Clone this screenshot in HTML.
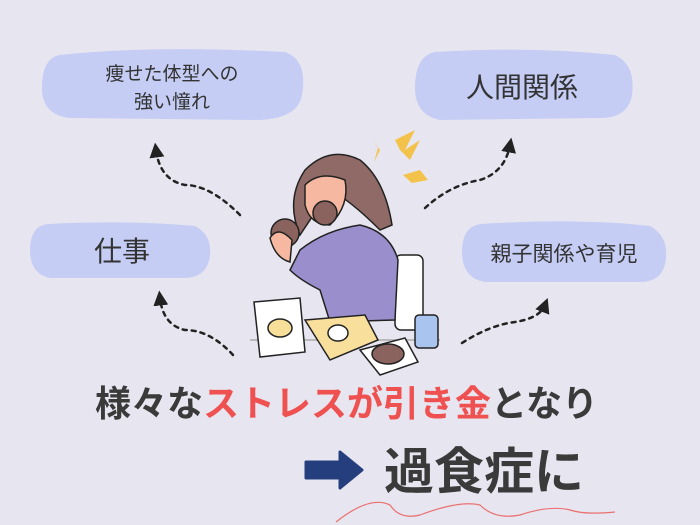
<!DOCTYPE html>
<html><head><meta charset="utf-8"><style>
html,body{margin:0;padding:0;background:#e7e5ef;}
svg{display:block}
text{font-family:"Liberation Sans","Noto Sans CJK JP",sans-serif;}
</style></head><body>
<svg width="700" height="525" viewBox="0 0 700 525" xmlns="http://www.w3.org/2000/svg">
<rect width="700" height="525" fill="#e7e5ef"/>
<defs><marker id="ah" markerWidth="6" markerHeight="6" refX="3" refY="3" orient="auto"><path d="M0,0 L6,3 L0,6 Z" fill="#222"/></marker></defs>
<path d="M60,55 Q150,45 285,52 Q308,60 302,95 Q298,118 260,120 L70,118 Q42,115 42,88 Q42,58 60,55 Z" fill="#c5cdf4"/>
<text x="172" y="80" font-size="19" text-anchor="middle" fill="#333">痩せた体型への</text>
<text x="172" y="108" font-size="19" text-anchor="middle" fill="#333">強い憧れ</text>
<path d="M435,52 Q530,46 615,55 Q636,65 632,95 Q628,118 600,118 L440,120 Q415,115 415,88 Q415,56 435,52 Z" fill="#c5cdf4"/>
<text x="522" y="97" font-size="28" text-anchor="middle" fill="#333">人間関係</text>
<path d="M48,224 Q130,220 195,226 Q212,235 210,255 Q208,277 185,278 L50,278 Q30,274 30,250 Q30,226 48,224 Z" fill="#c5cdf4"/>
<text x="122" y="261" font-size="28" text-anchor="middle" fill="#333">仕事</text>
<path d="M480,224 Q580,218 650,226 Q668,236 666,258 Q664,282 640,282 L485,282 Q462,278 462,252 Q462,227 480,224 Z" fill="#c5cdf4"/>
<text x="564" y="261" font-size="21" text-anchor="middle" fill="#333">親子関係や育児</text>
<g fill="none" stroke="#222" stroke-width="2.5" stroke-dasharray="4,5" stroke-linecap="round">
<path d="M240,215 Q210,185 185,185 Q160,180 156,150" marker-end="url(#ah)"/>
<path d="M425,208 Q450,185 480,180 Q505,172 510,145" marker-end="url(#ah)"/>
<path d="M233,355 Q210,330 185,330 Q163,325 160,298" marker-end="url(#ah)"/>
<path d="M462,343 Q490,325 515,322 Q540,318 545,305" marker-end="url(#ah)"/>
</g>
<g stroke="#222" stroke-width="1.5">
<rect x="395" y="255" width="28" height="75" rx="6" fill="#fff"/>
<path d="M300,235 Q285,200 305,170 Q330,145 360,160 Q385,180 392,225 L380,230 Q350,200 330,190 Z" fill="#8f6a66"/>
<path d="M305,185 Q320,170 345,180 Q350,205 330,225 Q310,225 305,205 Z" fill="#f6b8a0"/>
<path d="M300,250 Q325,230 360,225 Q390,232 398,260 L395,320 L330,322 L320,290 Q300,280 290,270 Z" fill="#9a8fcc"/>
<circle cx="285" cy="233" r="14" fill="#8a625e"/>
<circle cx="325" cy="213" r="12" fill="#8a625e"/>
<path d="M270,238 Q278,225 292,240 L290,262 Q275,258 270,238 Z" fill="#f6b8a0"/>
<path d="M250,340 L440,340" stroke="#aaa"/>
<path d="M254,302 L300,298 L305,352 L260,357 Z" fill="#fff"/>
<ellipse cx="280" cy="328" rx="12" ry="9" fill="#f7df9a"/>
<path d="M305,320 L365,315 L378,340 L330,360 Z" fill="#f8df9c"/>
<ellipse cx="338" cy="333" rx="10" ry="8" fill="#fff"/>
<path d="M360,350 L405,338 L418,362 L380,375 Z" fill="#fff"/>
<ellipse cx="388" cy="354" rx="16" ry="10" fill="#8a625e"/>
<rect x="415" y="315" width="23" height="33" rx="4" fill="#a8c4ef"/>
</g>
<g fill="#f2c24a"><path d="M372,140 L380,150 L374,162 L378,148 Z"/><path d="M395,140 L415,130 L405,150 L420,140 L410,160 L400,150 Z"/><path d="M403,175 L420,170 L428,180 L412,183 Z"/></g>
<text x="95" y="416" font-size="36" font-weight="bold" fill="#3a3a3a">様々な<tspan fill="#ef5050">ストレスが引き金</tspan>となり</text>
<path d="M306,462 L340,462 L340,452 L362,470 L340,488 L340,478 L306,478 Z" fill="#253f7e" stroke="#253f7e" stroke-width="3" stroke-linejoin="round"/>
<text x="384" y="489" font-size="50" font-weight="bold" fill="#3a3a3a">過食症に</text>
<path d="M336,522 Q370,495 390,505 Q400,520 420,515 Q460,500 480,505 Q495,520 520,515 Q550,505 570,510 Q585,515 615,512" fill="none" stroke="#ea7070" stroke-width="1.2"/>
</svg>
</body></html>
